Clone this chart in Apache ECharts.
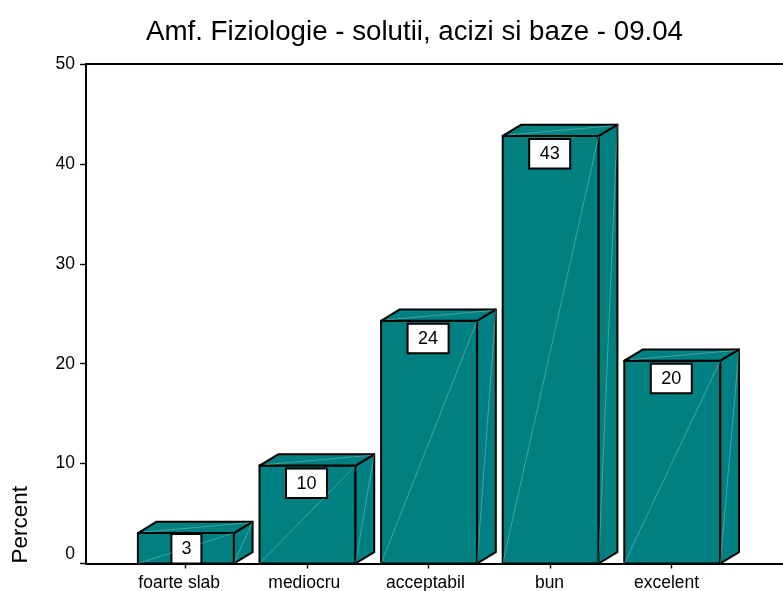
<!DOCTYPE html>
<html><head><meta charset="utf-8">
<style>html,body{margin:0;padding:0;background:#fff}#c{width:783px;height:591px}</style>
<script src="https://cdn.jsdelivr.net/npm/echarts@6/dist/echarts.min.js"></script></head>
<body><div id="c"></div>
<script>
const categories = ['foarte slab','mediocru','acceptabil','bun','excelent'];
const percentValues = [3.05, 9.8, 24.3, 42.8, 20.3];
const valueLabels = ['3','10','24','43','20'];
const chartTitle = 'Amf. Fiziologie - solutii, acizi si baze - 09.04';
const axisName = 'Percent';
const FF = '"Liberation Sans", Arial, sans-serif';
const TEAL = '#008080', DIAG = 'rgba(190,235,228,0.5)';
const labelShiftPad = [12, 5, 6, 1, 10];
const chart = echarts.init(document.getElementById('c'), null, {renderer:'canvas'});
const rich = {};
labelShiftPad.forEach((p,i)=>{ rich['s'+i] = {padding:[0,p,0,0],color:'#000',fontFamily:FF,fontSize:17.5}; });
function renderBar(params, api){
  const i = api.value(0), v = api.value(1);
  const base = api.coord([i,0]), top = api.coord([i,v]);
  const cx = base[0]+0.7, hw = 48, dx = 18.7, dy = 11.3;
  const l = cx-hw, r = cx+hw, t = top[1], b = base[1];
  const face = (pts, fill) => ({type:'polygon', shape:{points:pts}, style:{fill, stroke:'#000', lineWidth:2, lineJoin:'round'}});
  const diag = (x1,y1,x2,y2) => ({type:'line', shape:{x1,y1,x2,y2}, style:{stroke:DIAG, lineWidth:0.7}, z2:5});
  const txt = valueLabels[params.dataIndex];
  const bw = txt.length>1 ? 41 : 30, bh = 29.5;
  const by = Math.min(t+3, b-bh);
  const bx = cx - bw/2 + (txt.length>1 ? -1 : 0.5);
  return {type:'group', children:[
    face([[l,t],[r,t],[r,b],[l,b]], TEAL),
    face([[r,t],[r+dx,t-dy],[r+dx,b-dy],[r,b]], TEAL),
    face([[l,t],[l+dx,t-dy],[r+dx,t-dy],[r,t]], TEAL),
    {type:'rect', shape:{x:bx,y:by,width:bw,height:bh}, style:{fill:'#fff',stroke:'#000',lineWidth:2}, z2:3},
    {type:'text', style:{x:bx+bw/2,y:by+bh/2+0.5,text:txt,fill:'#000',font:'18px '+FF,align:'center',verticalAlign:'middle'}, z2:4},
    diag(l,b,r,t),
    diag(r,b,r+dx,t-dy),
    diag(l+6,t-1,r+dx-3,t-dy+1)
  ]};
}
chart.setOption({
  animation:false,
  backgroundColor:'#fff',
  title:{text:chartTitle,left:409.5,top:13,textAlign:'center',textStyle:{fontFamily:FF,fontSize:27.7,fontWeight:'normal',color:'#000'}},
  graphic:[{type:'text',rotation:Math.PI/2,x:32.5,y:563.5,style:{text:axisName,fill:'#000',font:'22.5px '+FF,align:'left',verticalAlign:'bottom'}}],
  grid:[{left:86,right:0,top:64,height:499.5,outerBoundsMode:'none'},
        {left:124.4,width:608,top:64,height:499.5,outerBoundsMode:'none'}],
  xAxis:[
    {gridIndex:0,type:'value',min:0,max:1,position:'bottom',axisLine:{show:true,onZero:false,lineStyle:{color:'#000',width:2}},axisTick:{show:false},axisLabel:{show:false},splitLine:{show:false}},
    {gridIndex:0,type:'value',min:0,max:1,position:'top',axisLine:{show:true,onZero:false,lineStyle:{color:'#000',width:2}},axisTick:{show:false},axisLabel:{show:false},splitLine:{show:false}},
    {gridIndex:1,type:'category',data:categories,axisLine:{show:false},axisTick:{show:true,alignWithLabel:true,length:5,inside:false,lineStyle:{color:'#000',width:1.4}},
     axisLabel:{interval:0,margin:11,formatter:(v,i)=>'{s'+i+'|'+v+'}',rich},splitLine:{show:false}}
  ],
  yAxis:[
    {gridIndex:0,type:'value',min:0,max:50,interval:10,
     axisLine:{show:true,lineStyle:{color:'#000',width:2}},axisTick:{show:true,length:6,lineStyle:{color:'#000',width:1.4}},
     axisLabel:{margin:11,color:'#000',fontFamily:FF,fontSize:17.5,verticalAlignMinLabel:'bottom'},splitLine:{show:false}},
    {gridIndex:1,type:'value',min:0,max:50,show:false}
  ],
  series:[{type:'custom',xAxisIndex:2,yAxisIndex:1,coordinateSystem:'cartesian2d',renderItem:renderBar,clip:false,
    encode:{x:0,y:1},data:percentValues.map((v,i)=>[i,v])}]
});
</script></body></html>
